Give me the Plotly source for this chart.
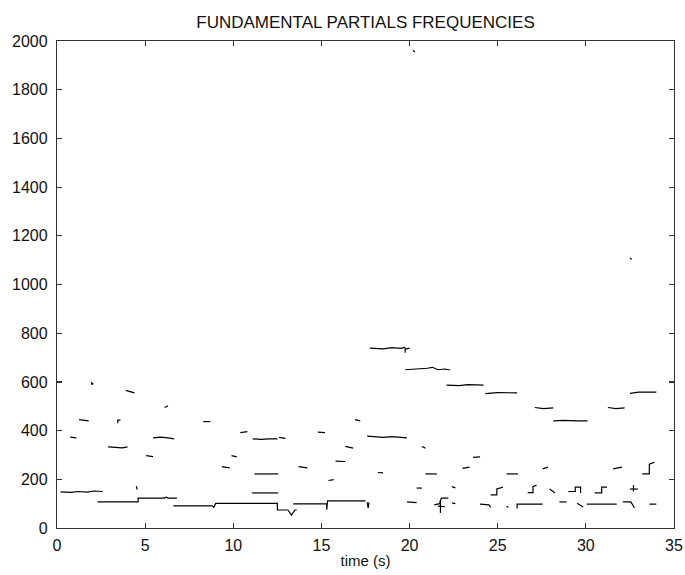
import plotly.graph_objects as go

# Each partial: list of (time s, frequency Hz) points
partials = [
    [(0.2,148),(0.8,146),(1.2,150),(1.7,147),(2.1,152),(2.4,149),(2.6,150)],
    [(2.3,107),(4.6,107),(4.6,123),(6.1,123),(6.2,127),(6.3,123),(6.8,123)],
    [(6.6,91),(8.8,91),(8.9,85),(9.0,101),(12.5,101),(12.5,74),(13.1,74),(13.3,53),(13.5,74),(13.6,74)],
    [(13.4,99),(15.3,99),(15.3,75),(15.35,111),(17.5,111)],
    [(17.6,105),(17.65,82),(17.7,105)],
    [(0.75,373),(1.1,370)],
    [(1.25,445),(1.5,443),(1.8,440)],
    [(1.95,600),(2.0,588),(2.05,595)],
    [(2.9,333),(3.5,331),(3.7,329),(4.0,333)],
    [(3.4,443),(3.6,443)],
    [(3.45,443),(3.45,430)],
    [(3.9,565),(4.2,558),(4.4,555)],
    [(5.05,297),(5.45,293)],
    [(5.45,370),(5.9,373),(6.3,370),(6.65,366)],
    [(6.1,495),(6.3,502)],
    [(4.5,172),(4.55,158)],
    [(8.3,437),(8.7,437)],
    [(9.35,252),(9.8,247)],
    [(9.9,297),(10.2,292)],
    [(10.4,392),(10.8,396)],
    [(11.1,366),(11.6,364),(12.0,366),(12.5,366)],
    [(12.6,372),(12.95,368)],
    [(11.2,222),(12.55,222)],
    [(11.05,144),(12.55,144)],
    [(13.7,252),(14.2,247)],
    [(14.8,394),(15.2,392)],
    [(15.4,195),(15.7,199)],
    [(15.8,275),(16.35,273)],
    [(16.35,335),(16.8,328)],
    [(16.9,445),(17.2,440)],
    [(17.75,739),(18.5,736),(19.0,741),(19.5,738),(19.7,742),(19.8,735),(20.0,739)],
    [(19.75,735),(19.75,720)],
    [(19.75,650),(20.5,653),(21.0,656),(21.3,660),(21.6,650),(22.0,653),(22.3,649)],
    [(22.1,587),(22.8,585),(23.3,589),(24.2,587)],
    [(24.3,552),(25.0,556),(26.1,555)],
    [(17.6,377),(18.5,372),(19.0,375),(19.85,370)],
    [(20.7,335),(20.9,328)],
    [(18.2,228),(18.5,226)],
    [(20.9,222),(21.55,222)],
    [(23.0,245),(23.4,250)],
    [(23.6,290),(24.0,292)],
    [(20.4,164),(20.7,164)],
    [(22.4,170),(22.6,165)],
    [(19.85,107),(20.4,104)],
    [(21.4,95),(21.7,100),(21.8,123),(22.2,123)],
    [(21.75,115),(21.75,62)],
    [(21.6,90),(22.0,88)],
    [(22.4,103),(22.6,100)],
    [(24.0,98),(24.5,95),(24.6,85)],
    [(24.6,136),(24.95,136),(24.95,160),(25.3,168)],
    [(25.5,222),(26.15,222)],
    [(25.5,90),(25.6,84)],
    [(26.1,80),(26.1,98),(27.55,98)],
    [(27.1,495),(27.6,490),(28.15,493)],
    [(28.15,440),(28.7,442),(29.5,440),(30.1,440)],
    [(31.25,495),(31.7,490),(32.2,493)],
    [(32.5,553),(33.0,558),(34.0,558)],
    [(27.55,243),(27.85,250)],
    [(31.55,243),(32.05,250)],
    [(33.2,222),(33.6,222),(33.6,262),(33.9,270)],
    [(26.7,145),(27.0,145),(27.0,170),(27.2,176)],
    [(27.95,160),(28.25,144)],
    [(29.0,150),(29.4,150),(29.4,168),(29.7,168),(29.7,144)],
    [(30.5,144),(30.9,144),(30.9,168),(31.2,168)],
    [(32.5,160),(32.95,160)],
    [(32.7,176),(32.7,150)],
    [(28.5,107),(28.9,107)],
    [(29.5,102),(29.85,86)],
    [(30.05,98),(31.75,98)],
    [(32.1,107),(32.55,107),(32.7,90),(32.75,82)],
    [(33.6,98),(34.0,98)],
    [(20.2,1962),(20.3,1955)],
    [(32.5,1109),(32.6,1104)],
]

x_ticks = [0, 5, 10, 15, 20, 25, 30, 35]
y_ticks = [0, 200, 400, 600, 800, 1000, 1200, 1400, 1600, 1800, 2000]

xs, ys = [], []
for p in partials:
    for t, f in p:
        xs.append(t)
        ys.append(f)
    xs.append(None)
    ys.append(None)

fig = go.Figure(go.Scatter(x=xs, y=ys, mode="lines",
                           line=dict(color="black", width=1.2),
                           connectgaps=False, hoverinfo="skip"))

fam = "Liberation Sans, Arial, sans-serif"
font = dict(family=fam, size=16, color="#111111")
axis_common = dict(showline=True, linecolor="#333333", linewidth=1.2, mirror="ticks",
                   ticks="inside", ticklen=5, tickcolor="#333333", tickwidth=1.2,
                   showgrid=False, zeroline=False, tickfont=font)

fig.update_layout(
    width=685, height=575,
    margin=dict(l=57, r=11, t=41, b=47),
    paper_bgcolor="white", plot_bgcolor="white",
    showlegend=False,
    font=font,
    title=dict(text="FUNDAMENTAL PARTIALS FREQUENCIES", x=(57 + 674) / 2 / 685, xanchor="center",
               y=1 - 22 / 575, yanchor="middle", yref="container",
               font=dict(size=17, family=fam, color="#111111")),
    xaxis=dict(range=[0, 35], tickvals=x_ticks, ticktext=[str(v) for v in x_ticks],
               title=dict(text="time (s)", standoff=2, font=dict(size=15, family=fam, color="#111111")),
               ticklabelstandoff=3, automargin=False, **axis_common),
    yaxis=dict(range=[0, 2000], tickvals=y_ticks, ticktext=[str(v) for v in y_ticks],
               ticklabelstandoff=5, automargin=False, **axis_common),
)

fig.write_html("out.html", config={"displayModeBar": False, "staticPlot": True},
               post_script="document.body.style.margin='0px';document.body.style.overflow='hidden';")
